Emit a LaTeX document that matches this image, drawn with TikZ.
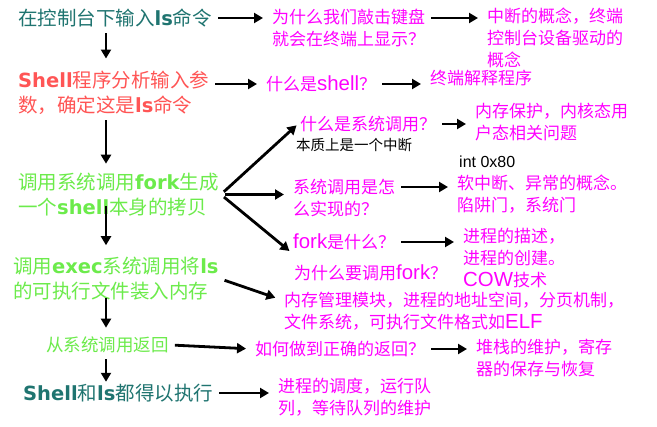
\documentclass[tikz,border=0pt]{standalone}
\usepackage{fontspec}
\setmainfont{Noto Sans CJK SC}
\newfontfamily\latfont{Liberation Sans}
\newfontfamily\latbig{Liberation Sans}[Scale=1.2]
\newfontfamily\heavyfont{DejaVu Sans}
\usetikzlibrary{arrows.meta, positioning, calc}
\definecolor{shellteal}{HTML}{1F7470}
\definecolor{shellred}{HTML}{FF5555}
\definecolor{shellgreen}{HTML}{6CEB4B}
\definecolor{shellpink}{HTML}{FF00FF}
\newcommand{\hvy}[1]{{\heavyfont\bfseries #1}}
\newcommand{\latw}[1]{{\latbig #1}}

\begin{document}
\begin{tikzpicture}[x=1pt, y=-1pt,
  stepl/.style={anchor=west, align=left, inner sep=2pt, font=\fontsize{19.5}{25}\selectfont},
  ask/.style={anchor=west, align=left, inner sep=2pt, text=shellpink, font=\fontsize{17}{22}\selectfont},
  note/.style={anchor=west, inner sep=2pt, font=\fontsize{14.5}{17}\selectfont},
  arr/.style={-{Triangle[length=9pt,width=10pt]}, line width=2.8pt, shorten <=4pt, shorten >=7pt}
]
\fill[white] (0,0) rectangle (657,427);
\useasboundingbox (0,0) rectangle (657,427);
\coordinate (axis) at (106,0);

\node[stepl, text=shellteal] (s1) at (16,18) {在控制台下输入\hvy{ls}命令};
\node[stepl, text=shellred] (s2) at (16,92.5) {\hvy{Shell}程序分析输入参\\数，确定这是\hvy{ls}命令};
\node[stepl, text=shellgreen] (s3) at (16,194.5) {调用系统调用\hvy{fork}生成\\一个\hvy{shell}本身的拷贝};
\node[stepl, text=shellgreen] (s4) at (11,279) {调用\hvy{exec}系统调用将\hvy{ls}\\的可执行文件装入内存};
\node[stepl, text=shellgreen, font=\fontsize{17.5}{22}\selectfont] (s5) at (44,345) {从系统调用返回};
\node[stepl, text=shellteal] (s6) at (21,393) {\hvy{Shell}和\hvy{ls}都得以执行};

\node[ask] (q1) at (270,27.5) {为什么我们敲击键盘\\就会在终端上显示？};
\node[ask] (a1) at (485,38) {中断的概念，终端\\控制台设备驱动的\\概念};
\node[ask] (q2) at (264,84) {什么是\latw{shell}？};
\node[ask] (a2) at (428,78) {终端解释程序};
\node[ask] (q3) at (298,124) {什么是系统调用？};
\node[note] (n3) at (294,145) {本质上是一个中断};
\node[ask] (a3) at (473,122.5) {内存保护，内核态用\\户态相关问题};
\node[ask] (q4) at (291,198) {系统调用是怎\\么实现的？};
\node[note, font=\latfont\fontsize{16}{18}\selectfont] (n4) at (457,162) {int 0x80};
\node[ask] (a4) at (455,194) {软中断、异常的概念。\\陷阱门，系统门};
\node[ask] (q5) at (291,242) {\latw{fork}是什么？};
\node[ask] (q6) at (292,273) {为什么要调用\latw{fork}？};
\node[ask] (a5) at (461,258) {进程的描述，\\进程的创建。\\\latw{COW}技术};
\node[ask] (a6) at (282,311) {内存管理模块，进程的地址空间，分页机制，\\文件系统，可执行文件格式如\latw{ELF}};
\node[ask] (q7) at (253,349) {如何做到正确的返回？};
\node[ask] (a7) at (474,358) {堆栈的维护，寄存\\器的保存与恢复};
\node[ask] (a8) at (276,397) {进程的调度，运行队\\列，等待队列的维护};

\draw[arr, shorten >=10pt] (s1.south -| axis) -- (s2.north -| axis);
\draw[arr] (s2.south -| axis) -- (s3.north -| axis);
\draw[arr, shorten <=-12pt, shorten >=10pt] (s3.south -| axis) -- (s4.north -| axis);
\draw[arr, shorten <=-5pt] (s4.south -| axis) -- (s5.north -| axis);
\draw[arr, shorten >=0pt] (s5.south -| axis) -- (s6.north -| axis);

\draw[arr] (s1.east) -- (q1.west |- s1.east);
\draw[arr] (q1.east |- s1.east) -- (a1.west |- s1.east);
\draw[arr] (s2.east |- q2.west) -- (q2.west);
\draw[arr] (q2.east) -- (a2.west |- q2.east);
\draw[arr, shorten >=2pt] (s3.east) -- (q3.west);
\draw[arr] (s3.east) -- (q4.west |- s3.east);
\draw[arr, shorten >=2pt] (s3.east) -- (q5.south west);
\draw[arr] (q3.east) -- (a3.west |- q3.east);
\draw[arr] ([yshift=11pt]q4.east) -- ([yshift=11pt]q4.east -| a4.west);
\draw[arr] (q5.east) -- (a5.west |- q5.east);
\draw[arr] (s4.east) -- ([yshift=11pt]a6.west);
\draw[arr] (s5.east) -- (q7.west);
\draw[arr] (q7.east) -- (a7.west |- q7.east);
\draw[arr] (s6.east) -- (a8.west |- s6.east);
\end{tikzpicture}
\end{document}
